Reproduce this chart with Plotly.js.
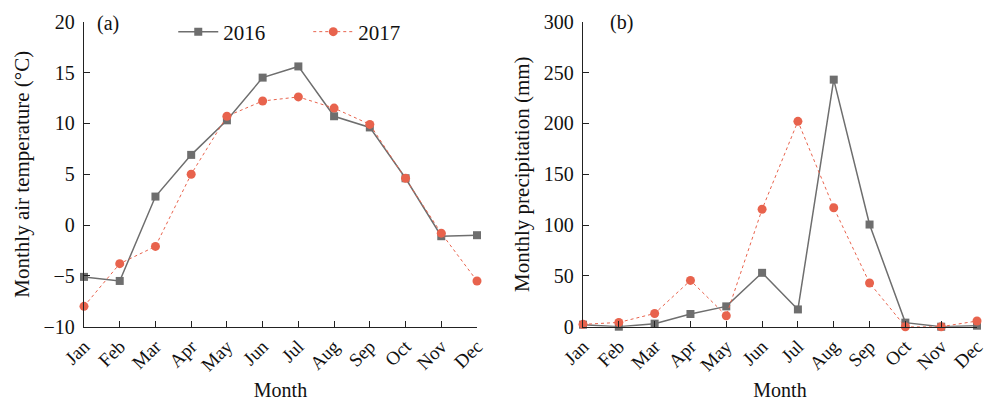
<!DOCTYPE html>
<html>
<head>
<meta charset="utf-8">
<script src="https://cdn.plot.ly/plotly-3.0.1.min.js"></script>
<style>html,body{margin:0;padding:0;background:#fff;}#chart{width:990px;height:404px;}</style>
</head>
<body>
<div id="chart"></div>
<script>
const months = ["Jan","Feb","Mar","Apr","May","Jun","Jul","Aug","Sep","Oct","Nov","Dec"];
const temp2016 = [-5.1,-5.5,2.8,6.9,10.3,14.5,15.6,10.7,9.6,4.6,-1.1,-1.0];
const temp2017 = [-8.0,-3.8,-2.1,5.0,10.7,12.2,12.6,11.5,9.9,4.6,-0.8,-5.5];
const prec2016 = [2,0,3,12.5,20,53,17,243,100.5,4,0,1];
const prec2017 = [2.3,4.2,13,45.5,10.8,115.5,202,117,43,0,0,5.6];
const tempTicks = [-10,-5,0,5,10,15,20];
const precTicks = [0,50,100,150,200,250,300];

const gray = "#6e6e6e";
const red = "#e8634d";
const FONT = "'Liberation Serif', 'Times New Roman', serif";
const idx = months.map((m,i)=>i);

function s16(y, xa, ya, show){
  return {x: idx, y: y, xaxis: xa, yaxis: ya, type:"scatter", mode:"lines+markers", name:"2016",
    showlegend: show, cliponaxis:false,
    line:{color:gray, width:1.5}, marker:{symbol:"square", size:8, color:gray}};
}
function s17(y, xa, ya, show){
  return {x: idx, y: y, xaxis: xa, yaxis: ya, type:"scatter", mode:"lines+markers", name:"2017",
    showlegend: show, cliponaxis:false,
    line:{color:red, width:1, dash:"dot"}, marker:{symbol:"circle", size:9, color:red}};
}
const data = [
  s16(temp2016,"x","y",true), s17(temp2017,"x","y",true),
  s16(prec2016,"x2","y2",false), s17(prec2017,"x2","y2",false)
];
const H = 404, W = 990;
const yDom = [1-326.7/H, 1-21.7/H];
function xax(domain){
  return {domain: domain, range:[0,11], tickvals: idx, ticktext: months, tickangle:-45,
    showline:true, linecolor:"#222", linewidth:1.2, ticks:"inside", ticklen:6, tickcolor:"#222",
    showgrid:false, zeroline:false, tickfont:{family:FONT, size:19, color:"#111"},
    title:{text:"Month", font:{family:FONT, size:20, color:"#111"}, standoff:8}};
}
function yax(range, tv, title, anchor){
  return {domain: yDom, range: range, tickvals: tv, anchor: anchor,
    showline:true, linecolor:"#222", linewidth:1.2, ticks:"inside", ticklen:6, tickcolor:"#222",
    showgrid:false, zeroline:false, tickfont:{family:FONT, size:20, color:"#111"},
    tickformat:"d", ticklabelstandoff:4,
    title:{text:title, font:{family:FONT, size:21, color:"#111"}, standoff:8}};
}
const layout = {
  width: W, height: H,
  margin:{l:0, r:0, t:0, b:0},
  paper_bgcolor:"#fff", plot_bgcolor:"rgba(0,0,0,0)",
  font:{family:FONT, color:"#111"},
  xaxis: Object.assign(xax([84/W, 477/W]), {anchor:"y"}),
  yaxis: yax([-10,20], tempTicks, "Monthly air temperature (°C)", "x"),
  xaxis2: Object.assign(xax([583/W, 977/W]), {anchor:"y2"}),
  yaxis2: yax([0,300], precTicks, "Monthly precipitation (mm)", "x2"),
  legend:{orientation:"h", x:0.175, y:1-32/H, xanchor:"left", yanchor:"middle",
    font:{family:FONT, size:21, color:"#111"}, bgcolor:"rgba(0,0,0,0)", itemwidth:40,
    entrywidth:80, entrywidthmode:"pixels", tracegroupgap:0},
  annotations:[
    {text:"(a)", xref:"paper", yref:"paper", x:108/W, y:1-23/H, showarrow:false, xanchor:"center", yanchor:"middle", font:{family:FONT, size:20, color:"#111"}},
    {text:"(b)", xref:"paper", yref:"paper", x:621/W, y:1-22/H, showarrow:false, xanchor:"center", yanchor:"middle", font:{family:FONT, size:20, color:"#111"}}
  ]
};
Plotly.newPlot("chart", data, layout, {displayModeBar:false, staticPlot:true});
</script>
</body>
</html>
